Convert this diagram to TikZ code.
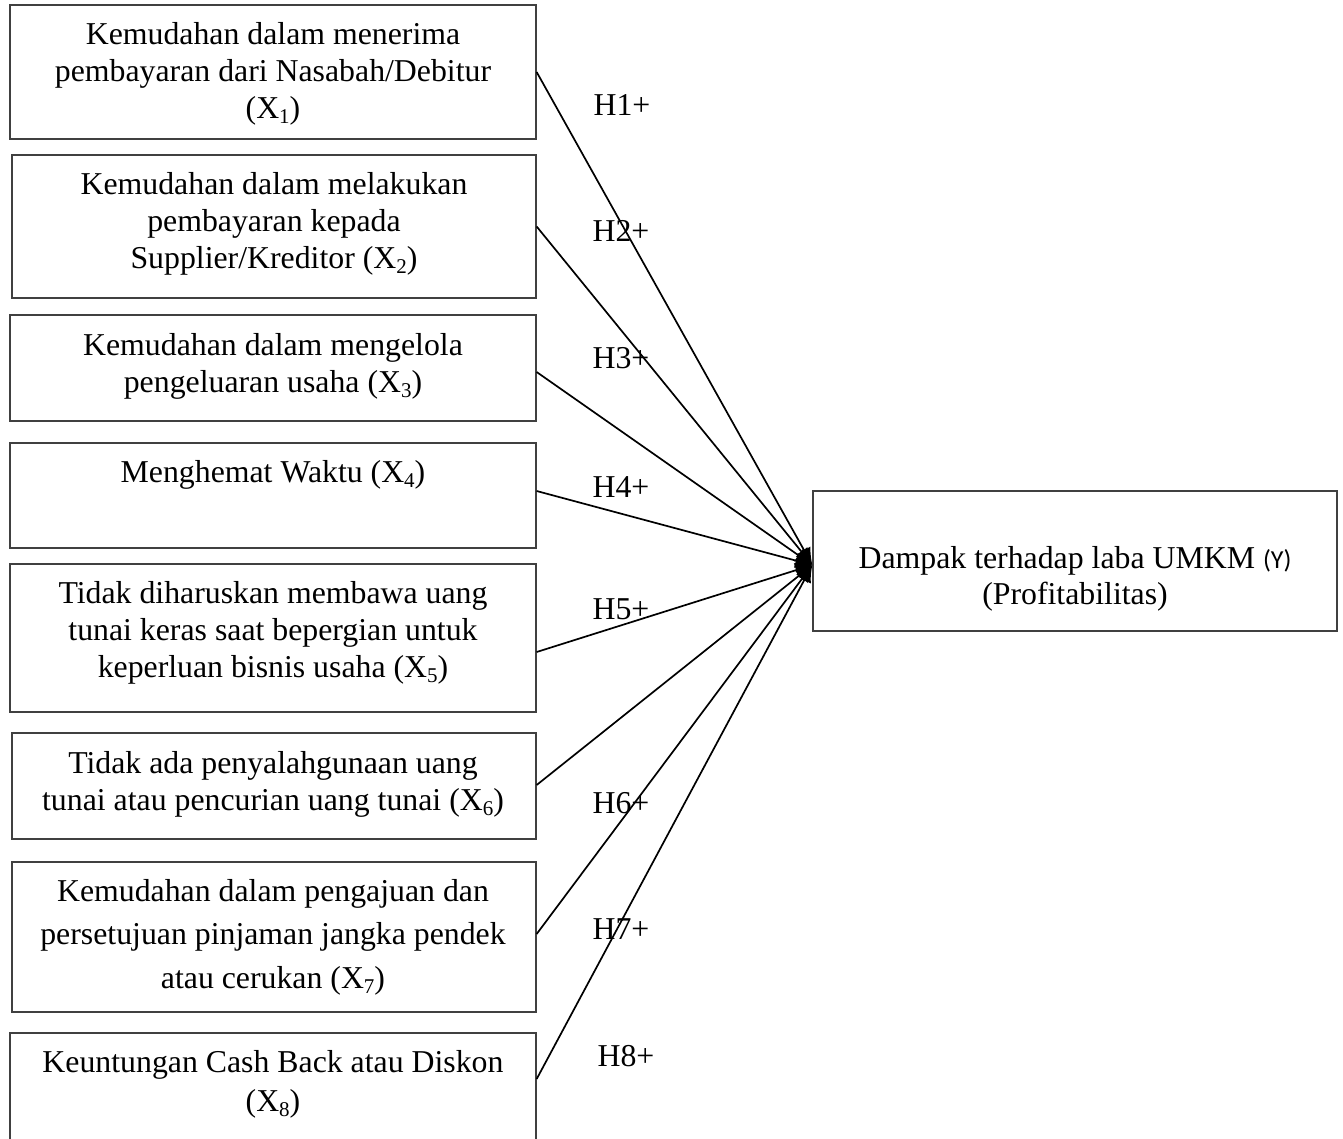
\documentclass[tikz,border=0pt]{standalone}
\usepackage{fontspec}
\setmainfont{Liberation Serif}
\newfontfamily\calfont{Carlito}
\usetikzlibrary{arrows.meta,calc}
\newcommand\xsub[1]{\raisebox{-0.16em}{\fontsize{21}{21}\selectfont #1}}
\definecolor{boxgray}{HTML}{404040}
\begin{document}
\begin{tikzpicture}[x=1pt,y=-1pt,
  box/.style={draw=boxgray, line width=1.3pt, inner sep=0pt, minimum width=526pt},
  txt/.style={align=center, inner sep=0pt, font=\fontsize{31.8}{37}\selectfont},
  lab/.style={inner sep=0pt, font=\fontsize{31.8}{37}\selectfont},
  conn/.style={line width=1.7pt, -{Latex[length=17pt,width=15pt]}}]
\useasboundingbox (0,0) rectangle (1343,1138);
% boxes
\node[box, minimum height=134pt] (b1) at (273,72) {};
\node[box, minimum width=524pt, minimum height=143pt] (b2) at (274,226.5) {};
\node[box, minimum height=106pt] (b3) at (273,368) {};
\node[box, minimum height=105pt] (b4) at (273,495.5) {};
\node[box, minimum height=148pt] (b5) at (273,638) {};
\node[box, minimum width=524pt, minimum height=106pt] (b6) at (274,786) {};
\node[box, minimum width=524pt, minimum height=150pt] (b7) at (274,937) {};
\node[box, minimum height=112pt] (b8) at (273,1089) {};
\node[box, minimum width=524pt, minimum height=140pt] (y) at (1075,561) {};
% texts
\node[txt] (t1) at (273,74) {Kemudahan dalam menerima\\pembayaran dari Nasabah/Debitur\\(X\xsub{1})};
\node[txt] (t2) at (274,224) {Kemudahan dalam melakukan\\pembayaran kepada\\Supplier/Kreditor (X\xsub{2})};
\node[txt] (t3) at (273,366) {Kemudahan dalam mengelola\\pengeluaran usaha (X\xsub{3})};
\node[txt] (t4) at (273,475) {Menghemat Waktu (X\xsub{4})};
\node[txt] (t5) at (273,633) {Tidak diharuskan membawa uang\\tunai keras saat bepergian untuk\\keperluan bisnis usaha (X\xsub{5})};
\node[txt] (t6) at (273,784) {Tidak ada penyalahgunaan uang\\tunai atau pencurian uang tunai (X\xsub{6})};
\node[txt, font=\fontsize{31.8}{43.5}\selectfont] (t7) at (273,937) {Kemudahan dalam pengajuan dan\\persetujuan pinjaman jangka pendek\\atau cerukan (X\xsub{7})};
\node[txt, font=\fontsize{31.8}{39}\selectfont] (t8) at (273,1084) {Keuntungan Cash Back atau Diskon\\(X\xsub{8})};
\node[txt, font=\fontsize{31.8}{36}\selectfont] (ty) at (1075,579) {Dampak terhadap laba UMKM {\calfont\fontsize{26}{26}\selectfont(Y)}\\(Profitabilitas)};
% labels
\node[lab] (h1) at (622,105) {H1+};
\node[lab] (h2) at (621,231) {H2+};
\node[lab] (h3) at (621,358) {H3+};
\node[lab] (h4) at (621,487) {H4+};
\node[lab] (h5) at (621,609) {H5+};
\node[lab] (h6) at (621,803) {H6+};
\node[lab] (h7) at (621,929) {H7+};
\node[lab] (h8) at (626,1056) {H8+};
% connectors
\coordinate (yin) at ($(y.west)+(0,4)$);
\draw[conn] (b1.east) -- (yin);
\draw[conn] (b2.east) -- (yin);
\draw[conn] ($(b3.east)+(0,4)$) -- (yin);
\draw[conn] ($(b4.east)+(0,-4.5)$) -- (yin);
\draw[conn] ($(b5.east)+(0,14)$) -- (yin);
\draw[conn] ($(b6.east)+(0,-1)$) -- (yin);
\draw[conn] ($(b7.east)+(0,-3)$) -- (yin);
\draw[conn] ($(b8.east)+(0,-10)$) -- (yin);
\end{tikzpicture}
\end{document}
